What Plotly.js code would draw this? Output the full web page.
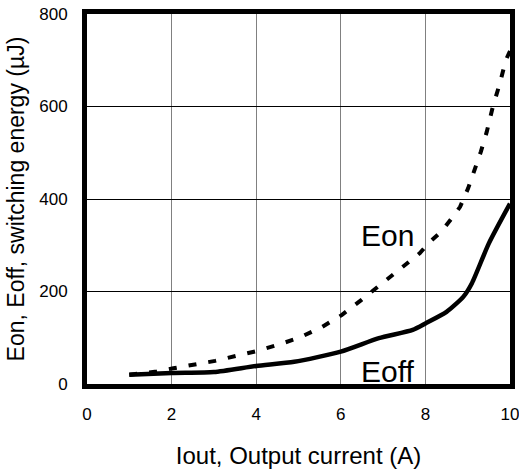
<!DOCTYPE html>
<html>
<head>
<meta charset="utf-8">
<script src="https://cdn.plot.ly/plotly-3.0.1.min.js"></script>
<style>html,body{margin:0;padding:0;background:#fff;}#chart{width:519px;height:472px;}</style>
</head>
<body>
<div id="chart"></div>
<script>
var eoffX = [1, 2, 3, 4, 4.9, 6, 6.9, 7.7, 8.0, 8.5, 8.9, 9.1, 9.5, 10];
var eoffY = [20, 24, 26, 39, 48, 70, 99, 117, 131, 156, 189, 218, 304, 390];
var eonX = [1, 1.65, 2.04, 2.63, 3.03, 3.62, 4.0, 4.56, 5.04, 5.55, 6.02, 6.49, 6.97, 7.48, 7.87, 8.07, 8.39, 8.62, 8.82, 9.01, 9.17, 9.31, 9.45, 9.59, 9.76, 9.9, 10];
var eonY = [20, 27, 34, 43, 50, 63, 71, 86, 101, 123, 149, 182, 218, 254, 283, 304, 331, 358, 383, 423, 463, 502, 545, 598, 650, 700, 720];
var xTicks = [0, 2, 4, 6, 8, 10];
var yTicks = [0, 200, 400, 600, 800];
var labels = ["Eon", "Eoff"];
var labelX = [7.1, 7.1];
var labelY = [322, 26];

var font = "Liberation Sans, Arial, sans-serif";
var traces = [
  {x: eonX, y: eonY, mode: "lines", line: {color: "#000", width: 4, dash: "8px,12px"}, hoverinfo: "none"},
  {x: eoffX, y: eoffY, mode: "lines", line: {color: "#000", width: 4.5, shape: "spline", smoothing: 0.6}, hoverinfo: "none"}
];
var annotations = labels.map(function (t, i) {
  return {x: labelX[i], y: labelY[i], xref: "x", yref: "y", text: t, showarrow: false,
    font: {family: font, size: 30, color: "#000"}, xanchor: "center", yanchor: "middle"};
});
var layout = {
  width: 519, height: 472,
  margin: {l: 87, r: 9, t: 14, b: 88},
  paper_bgcolor: "#fff", plot_bgcolor: "#fff",
  showlegend: false,
  font: {family: font, color: "#000"},
  xaxis: {range: [0, 10], tickvals: xTicks, ticktext: xTicks.map(String), showgrid: true, gridcolor: "#808080", gridwidth: 1,
    zeroline: false, showline: true, linecolor: "#000", linewidth: 5, mirror: true, ticklabeloverflow: "allow",
    ticks: "outside", ticklen: 11, tickcolor: "rgba(0,0,0,0)", tickfont: {size: 17, family: font},
    title: {text: "Iout, Output current (A)", font: {size: 24, family: font}, standoff: 25}},
  yaxis: {range: [0, 800], tickvals: yTicks, ticktext: yTicks.map(String), showgrid: true, gridcolor: "#000", gridwidth: 1,
    zeroline: false, showline: true, linecolor: "#000", linewidth: 5, mirror: true, ticklabeloverflow: "allow",
    ticks: "outside", ticklen: 11, tickcolor: "rgba(0,0,0,0)", tickfont: {size: 17, family: font},
    title: {text: "Eon, Eoff, switching energy (µJ)", font: {size: 23, family: font}, standoff: 10}},
  annotations: annotations
};
Plotly.newPlot("chart", traces, layout, {staticPlot: true, displayModeBar: false});
</script>
</body>
</html>
